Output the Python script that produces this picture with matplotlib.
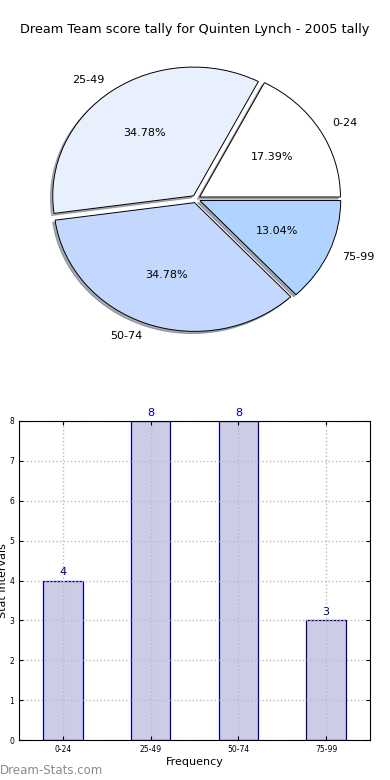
import matplotlib
matplotlib.use('Agg')
import matplotlib.pyplot as plt
import numpy as np

plt.rc('font', family='DejaVu Sans')

# data
intervals = ['0-24', '25-49', '50-74', '75-99']
counts = [4, 8, 8, 3]
pie_colors = ['#ffffff', '#e8f0fe', '#c4d8ff', '#b0d4ff']
title = 'Dream Team score tally for Quinten Lynch - 2005 tally'

fig = plt.figure(figsize=(3.9, 7.8), dpi=100)

##############################################################
# PIE

ax1 = fig.add_axes([27/390, 1 - 353.5/780, 338/390, 309/780])
wedges, texts, autotexts = ax1.pie(counts, labels=intervals, colors=pie_colors,
                                   explode=[0.03]*4,
                                   shadow={'ox': -0.012, 'oy': -0.012, 'shade': 0.6},
                                   autopct='%.2f%%',
                                   startangle=0, counterclock=True,
                                   wedgeprops={'edgecolor': 'black', 'linewidth': 0.7},
                                   textprops={'fontsize': 8})
ax1.set_aspect('auto')
ax1.set_xlim(-1.2, 1.2)
ax1.set_ylim(-1.2, 1.2)
ax1.axis('off')
fig.text(0.5, 1 - 30/780, title, ha='center', va='center', fontsize=9.3)

##############################################################
# BARS

ax2 = fig.add_axes([19/390, 40/780, 351/390, 319/780])
ind = np.arange(len(intervals))
ax2.bar(ind, counts, 0.45, color='#ccccE6', edgecolor='#000080', linewidth=0.9, zorder=1)
for x, c in zip(ind, counts):
    ax2.text(x, c + 0.08, str(c), ha='center', va='bottom', color='#000080', fontsize=8)
ax2.set_xlim(-0.5, 3.5)
ax2.set_ylim(0, 8)
ax2.set_xticks(ind)
ax2.set_xticklabels(intervals)
ax2.set_yticks(range(9))
ax2.tick_params(labelsize=5.5, direction='in', top=True, right=True, length=3)
ax2.grid(True, linestyle=':', color='#bbbbbb', linewidth=1, zorder=2)
ax2.set_axisbelow(False)
for sp in ax2.spines.values():
    sp.set_zorder(4)
ax2.set_xlabel('Frequency', fontsize=8, labelpad=2)
ax2.set_ylabel('Stat Intervals', fontsize=8, labelpad=2)
ax2.yaxis.set_label_coords(-0.03, 0.5)

fig.text(0.0, 1 - 771/780, 'Dream-Stats.com', color='#8a8a8a', fontsize=8.5,
         ha='left', va='center')

fig.savefig('out.png', dpi=100)
